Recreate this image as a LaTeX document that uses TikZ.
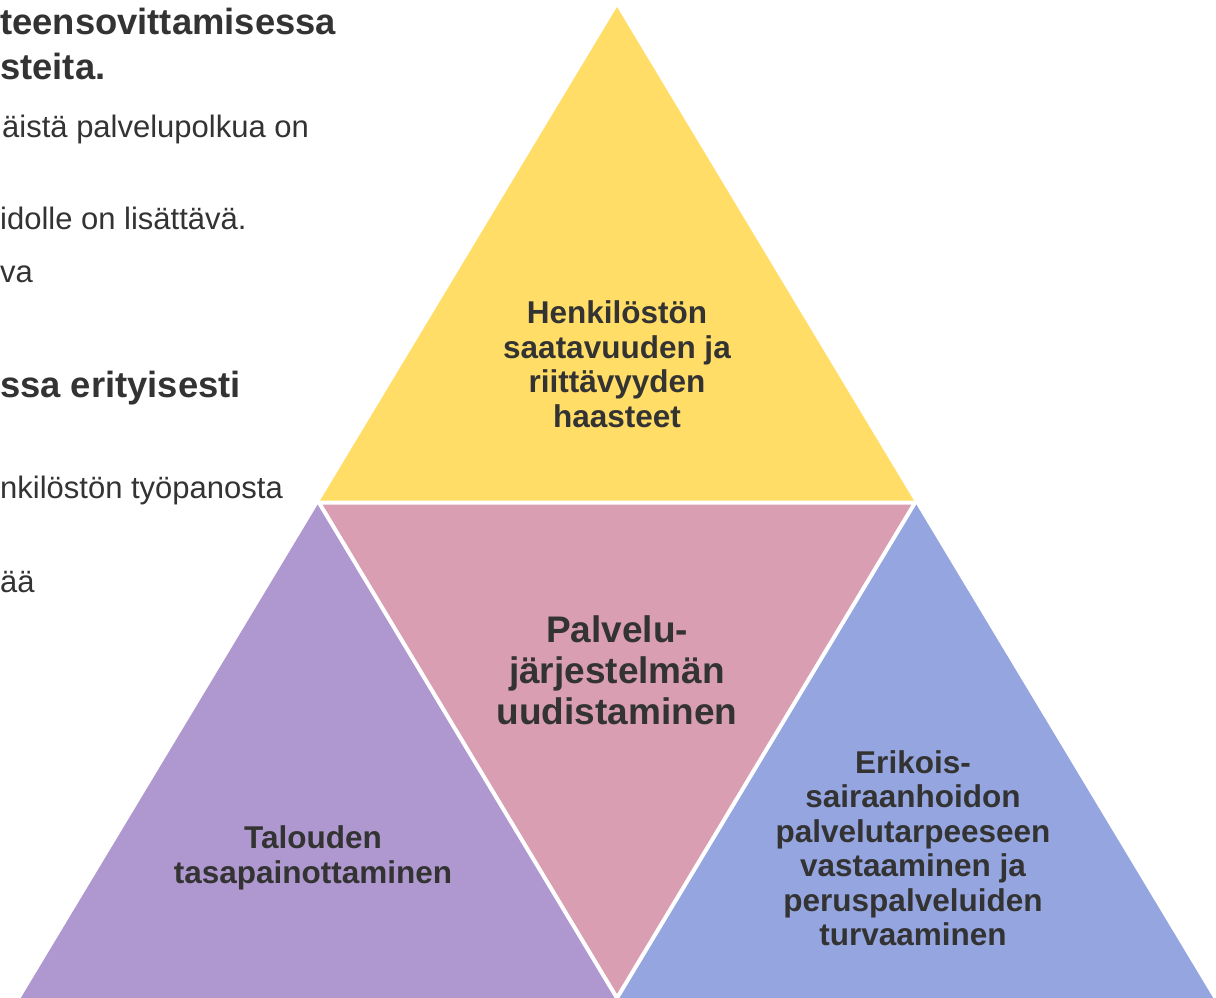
\documentclass[tikz,border=0pt]{standalone}
\usepackage{fontspec}
\setmainfont{Liberation Sans}
\definecolor{txt}{HTML}{333333}
\definecolor{cyellow}{HTML}{FFDD66}
\definecolor{cpink}{HTML}{D99EB2}
\definecolor{cpurple}{HTML}{AF98CF}
\definecolor{cblue}{HTML}{95A5DF}
\tikzset{
  gap/.style={draw=white,line width=4pt,line join=miter},
  tritext/.style={align=center,text=txt,font=\bfseries\fontsize{31.5}{34.5}\selectfont,inner sep=0pt},
  bigtext/.style={align=center,text=txt,font=\bfseries\fontsize{37}{41}\selectfont,inner sep=0pt},
  headtext/.style={anchor=base west,text=txt,font=\bfseries\fontsize{36.4}{40}\selectfont,inner sep=0pt},
  bodytext/.style={anchor=base west,text=txt,font=\fontsize{31}{36}\selectfont,inner sep=0pt}
}
\begin{document}
\begin{tikzpicture}[x=1pt,y=-1pt]
\useasboundingbox[fill=white] (0,0) rectangle (1216,998);
% geometry
\coordinate (A) at (617,7);
\coordinate (L) at (318.9,502.5);
\coordinate (R) at (915.1,502.5);
\coordinate (BL) at (20.8,998);
\coordinate (BM) at (617,998);
\coordinate (BR) at (1213.2,998);
% triangles
\fill[cyellow] (A) -- (R) -- (L) -- cycle;
\fill[cpink] (L) -- (R) -- (BM) -- cycle;
\fill[cpurple] (L) -- (BM) -- (BL) -- cycle;
\fill[cblue] (R) -- (BR) -- (BM) -- cycle;
\draw[gap] (L) -- (R) -- (BM) -- cycle;
% left text (clipped in the original)
\node[headtext] (h1) at (0,35) {teensovittamisessa};
\node[headtext] (h2) at (0,80) {steita.};
\node[bodytext] (b1) at (2,137) {äistä palvelupolkua on};
\node[bodytext] (b2) at (0,229) {idolle on lisättävä.};
\node[bodytext] (b3) at (0,282) {va};
\node[headtext] (h3) at (0,397) {ssa erityisesti};
\node[bodytext] (b4) at (0,498) {nkilöstön työpanosta};
\node[bodytext] (b5) at (0,592) {ää};
% triangle labels
\node[tritext] (top) at (617,364) {Henkilöstön\\saatavuuden ja\\riittävyyden\\haasteet};
\node[bigtext] (mid) at (617,670) {Palvelu-\\järjestelmän\\uudistaminen};
\node[tritext] (left) at (313,858) {Talouden\\tasapainottaminen};
\node[tritext] (right) at (913,848) {Erikois-\\sairaanhoidon\\palvelutarpeeseen\\vastaaminen ja\\peruspalveluiden\\turvaaminen};
\end{tikzpicture}
\end{document}
